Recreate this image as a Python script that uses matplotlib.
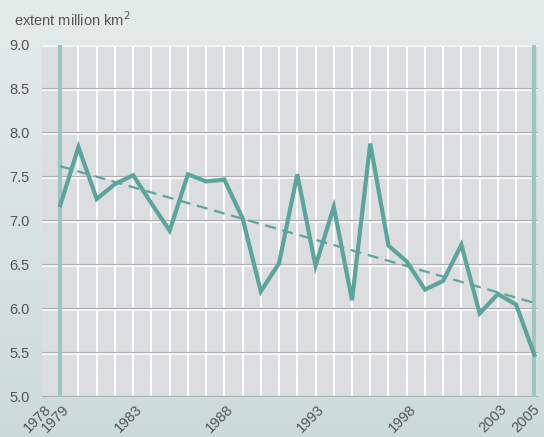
import numpy as np
import matplotlib.pyplot as plt
import matplotlib.transforms as mtransforms

years = list(range(1979, 2006))
extent = [7.18, 7.84, 7.25, 7.42, 7.52, 7.20, 6.89, 7.53, 7.45, 7.47,
          7.03, 6.20, 6.52, 7.53, 6.49, 7.16, 6.10, 7.88, 6.72, 6.54,
          6.22, 6.32, 6.73, 5.95, 6.17, 6.05, 5.48]
tick_years = [1978, 1979, 1983, 1988, 1993, 1998, 2003, 2005]
y_ticks = [5.0, 5.5, 6.0, 6.5, 7.0, 7.5, 8.0, 8.5, 9.0]

teal = '#5ba59c'
text_col = '#555555'
plt.rcParams['font.family'] = ['Liberation Sans', 'DejaVu Sans']

fig = plt.figure(figsize=(5.44, 4.37), dpi=100)

# background gradient
bg = fig.add_axes([0, 0, 1, 1], zorder=-5)
grad = np.linspace(0, 1, 256).reshape(-1, 1)
top = np.array([0.894, 0.925, 0.918])
bot = np.array([0.800, 0.859, 0.851])
img = top + (bot - top) * grad[:, :, None]
bg.imshow(img, aspect='auto', extent=[0, 1, 0, 1])
bg.axis('off')

ax = fig.add_axes([42/544, 40/437, 496/544, 352/437])
ax.set_facecolor('#dcdddf')
ax.set_xlim(1978, 2005.2)
ax.set_ylim(5.0, 9.0)

# grid
for yr in range(1980, 2005):
    ax.axvline(yr, color='white', lw=1.4, zorder=1)
for yv in y_ticks:
    ax.axhline(yv, color='#b0b0b2', lw=1.6, zorder=1.5)
    ax.axhline(yv - 0.013, color='white', lw=1.2, zorder=1.5)
ax.axvline(1979, color='#9cc6c0', lw=3, zorder=2)
ax.axvline(2005, color='#9cc6c0', lw=3, zorder=2)

# data and trend
ax.plot(years, extent, color=teal, lw=3, zorder=4, solid_joinstyle='miter')
coef = np.polyfit(years, extent, 1)
trend = np.polyval(coef, years)
ax.plot(years, trend, color=teal, lw=1.6, ls=(0, (5, 3)), zorder=3)

for s in ax.spines.values():
    s.set_visible(False)
ax.tick_params(length=0, colors=text_col, labelsize=10.5)
ax.set_yticks(y_ticks)
ax.set_yticklabels([f'{v:.1f}' for v in y_ticks])
ax.tick_params(axis='y', pad=9)
ax.set_xticks(tick_years)
ax.set_xticklabels([str(t) for t in tick_years], rotation=45, ha='right',
                   va='top', rotation_mode='anchor')
ax.tick_params(axis='x', pad=4)
labels = ax.get_xticklabels()
for lbl in labels[:-1]:
    shift = mtransforms.ScaledTranslation(2/100, 0, fig.dpi_scale_trans)
    lbl.set_transform(lbl.get_transform() + shift)
labels[-1].set_transform(labels[-1].get_transform() +
                         mtransforms.ScaledTranslation(-2/100, 0, fig.dpi_scale_trans))

fig.text(14/544, 1 - 20/437, 'extent million km$^2$', color=text_col,
         fontsize=10.5, va='center', ha='left')

fig.savefig('out.png', dpi=100)
